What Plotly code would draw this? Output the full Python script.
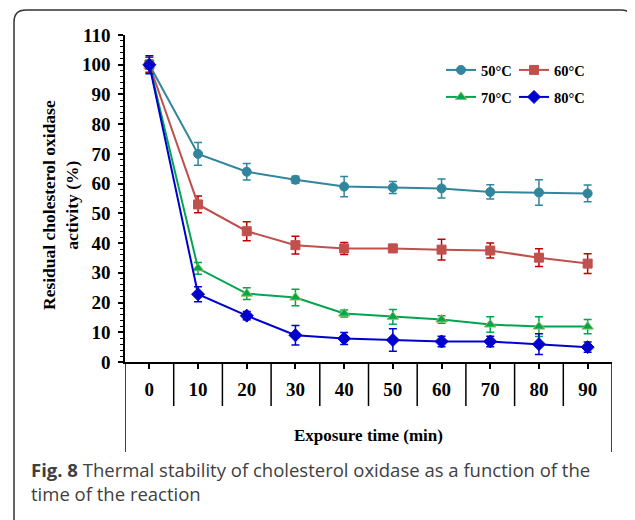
import plotly.graph_objects as go

times = [0, 10, 20, 30, 40, 50, 60, 70, 80, 90]
tick_labels = ["0", "10", "20", "30", "40", "50", "60", "70", "80", "90"]

s50 = [100, 70, 64, 61.3, 59, 58.7, 58.4, 57.2, 57, 56.7]
e50 = [1.5, 3.8, 2.8, 1.2, 3.4, 2.0, 3.2, 2.4, 4.3, 2.8]
s60 = [100, 53, 44, 39.3, 38.2, 38.2, 37.8, 37.5, 35.1, 33.1]
e60 = [2.5, 2.8, 3.2, 3.0, 2.0, 1.3, 3.5, 2.5, 3.0, 3.3]
s70 = [100, 31.5, 23, 21.7, 16.3, 15.2, 14.3, 12.6, 11.9, 11.9]
e70 = [1.5, 2.0, 2.0, 2.8, 1.2, 2.5, 1.3, 2.6, 3.3, 2.4]
s80 = [100, 22.8, 15.6, 9.0, 7.9, 7.4, 6.9, 6.9, 6.0, 5.0]
e80 = [3.0, 2.5, 1.4, 3.3, 2.0, 3.8, 1.8, 1.8, 3.5, 1.7]

series = [
    ("50°C", s50, e50, "#31859C", "#31859C", "circle", 9, "#31859C", "legend"),
    ("60°C", s60, e60, "#C0504D", "#C00000", "square", 9, "#C0504D", "legend2"),
    ("70°C", s70, e70, "#00A550", "#00A550", "triangle-up", 10, "#9BBB59", "legend3"),
    ("80°C", s80, e80, "#0000CC", "#0000CC", "diamond", 10, "#0000CC", "legend4"),
]

serif = "Liberation Serif, Times New Roman, serif"

fig = go.Figure()
for name, ys, es, col, ecol, sym, msz, mline, leg in series:
    fig.add_trace(go.Scatter(
        x=times, y=ys, name=name, mode="lines+markers",
        line=dict(color=col, width=2),
        marker=dict(symbol=sym, size=msz, color=col, line=dict(color=mline, width=1)),
        error_y=dict(type="data", array=es, visible=True, color=ecol, thickness=1.5, width=4),
        legend=leg,
    ))

OFF = 8  # page body margin
W, H = 635, 520
# plot area in screen pixels: x 125..612, y 35..362
L = 125 - OFF
T = 35 - OFF
R = W - (612 - OFF)
B = H - (362 - OFF)
pw, ph = 612 - 125, 362 - 35

def px(x):
    return (x - 125) / pw

def py(y):
    return (362 - y) / ph

shapes = []
for i in range(len(times) - 1):
    xb = (times[i] + times[i + 1]) / 2
    shapes.append(dict(type="line", xref="x", yref="paper", x0=xb, x1=xb,
                       y0=0, y1=py(406), line=dict(color="black", width=1.5)))
for xb in (-5, 95):
    shapes.append(dict(type="line", xref="x", yref="paper", x0=xb, x1=xb,
                       y0=0, y1=py(452), line=dict(color="black", width=1.5)))

x0, x1, y0, y1, r = 14, 633, 10, 540, 12
path = (f"M {px(x0)},{py(y1)} L {px(x0)},{py(y0 + r)} "
        f"Q {px(x0)},{py(y0)} {px(x0 + r)},{py(y0)} "
        f"L {px(x1 - r)},{py(y0)} Q {px(x1)},{py(y0)} {px(x1)},{py(y0 + r)} "
        f"L {px(x1)},{py(y1)}")
shapes.append(dict(type="path", xref="paper", yref="paper", path=path,
                   line=dict(color="#333333", width=1.5)))

annotations = [
    dict(text="<b>Residual cholesterol oxidase<br>activity (%)</b>", x=px(60), y=py(205),
         xref="paper", yref="paper", xanchor="center", yanchor="middle",
         textangle=-90, showarrow=False,
         font=dict(family=serif, size=17.5, color="black")),
    dict(text="<b>Exposure time (min)</b>", x=px(368), y=py(435),
         xref="paper", yref="paper", xanchor="center", yanchor="middle", showarrow=False,
         font=dict(family=serif, size=17, color="black")),
    dict(text="<b>Fig. 8</b> Thermal stability of cholesterol oxidase as a function of the<br>time of the reaction",
         x=px(29), y=py(481), xref="paper", yref="paper", xanchor="left", yanchor="middle",
         align="left", showarrow=False,
         font=dict(family="Open Sans, Noto Sans, sans-serif", size=18.5, color="#404040")),
]

legfont = dict(family=serif, size=14.5, color="black", weight="bold")

def leg(xp, yp):
    return dict(orientation="h", x=px(xp), y=py(yp), xanchor="left", yanchor="middle",
                font=legfont, bgcolor="rgba(0,0,0,0)", itemwidth=30)

fig.update_layout(
    width=W, height=H,
    margin=dict(l=L, r=R, t=T, b=B, autoexpand=False),
    paper_bgcolor="white", plot_bgcolor="white",
    showlegend=True,
    legend=leg(441, 70),
    legend2=leg(514, 70),
    legend3=leg(441, 97),
    legend4=leg(514, 97),
    xaxis=dict(range=[-5, 95], tickvals=times, ticktext=tick_labels,
               ticks="outside", ticklen=5, tickwidth=1.5, tickcolor="black",
               showline=True, linecolor="black", linewidth=1.5, showgrid=False, zeroline=False,
               ticklabelstandoff=4,
               tickfont=dict(family=serif, size=19, color="black", weight="bold")),
    yaxis=dict(range=[0, 110], dtick=10, ticks="outside", ticklen=5, tickwidth=1.5,
               tickcolor="black", showline=True, linecolor="black", linewidth=1.5,
               showgrid=False, zeroline=False, ticklabelstandoff=4,
               minor=dict(dtick=2, ticks="outside", ticklen=3, tickcolor="black", tickwidth=1),
               tickfont=dict(family=serif, size=19, color="black", weight="bold")),
    shapes=shapes, annotations=annotations,
)

fig.write_html("out.html")
